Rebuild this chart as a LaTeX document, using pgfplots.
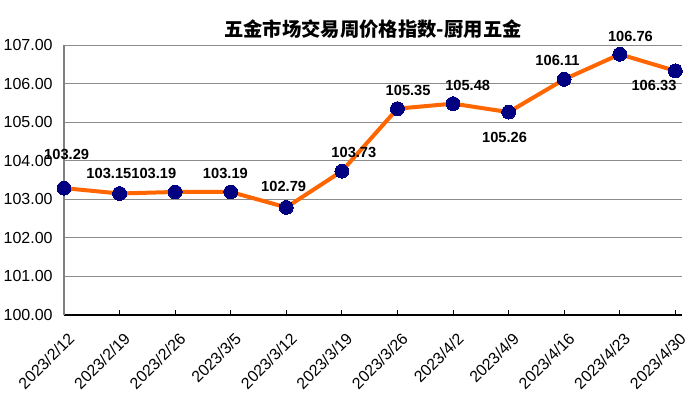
\documentclass[border=0pt]{standalone}
\usepackage{pgfplots}
\pgfplotsset{compat=1.18}
\usepackage{pgfplotstable}
\usepackage{fontspec}
\setmainfont{Liberation Sans}
\newfontfamily\cjk{Noto Sans CJK SC}
\definecolor{lineorange}{RGB}{255,102,0}
\definecolor{marknavy}{RGB}{0,0,128}
\pgfplotstableread{
x y dx dy
0 103.29 2 25
1 103.15 -8 15
2 103.19 -16 14
3 103.19 -4 14
4 102.79 -2 16
5 103.73 9 14
6 105.35 8 14
7 105.48 11 14
8 105.26 -3 -19
9 106.11 -5 14
10 106.76 8 13
11 106.33 -16 -11
}\datatable
\begin{document}
\begin{tikzpicture}
\path[use as bounding box] (-48pt,-61.5pt) rectangle (468pt,236.25pt);
\begin{axis}[
  at={(0,0)}, anchor=south west,
  scale only axis,
  width=463.5pt, height=202.5pt,
  xmin=0, xmax=11.12,
  ymin=100, ymax=107,
  ytick={100,101,...,107},
  xtick={0,...,11},
  xticklabels={2023/2/12,2023/2/19,2023/2/26,2023/3/5,2023/3/12,2023/3/19,2023/3/26,2023/4/2,2023/4/9,2023/4/16,2023/4/23,2023/4/30},
  axis x line*=bottom,
  axis y line*=left,
  x axis line style={black, line width=0.8pt, -},
  y axis line style={gray, line width=0.8pt, -},
  ymajorgrids,
  grid style={gray!90, line width=0.7pt},
  ytick style={draw=none},
  xtick style={black, line width=0.6pt},
  xtick align=inside,
  major tick length=4pt,
  clip=false,
  /pgf/number format/assume math mode=true,
  yticklabel style={/pgf/number format/.cd, fixed, fixed zerofill, precision=2, /tikz/.cd, font=\fontsize{12}{14}\selectfont, xshift=-5pt},
  xticklabel style={xshift=2.5pt, yshift=-7.5pt, rotate=45, anchor=north east, font=\fontsize{12}{14}\selectfont},
  title={\cjk\bfseries 五金市场交易周价格指数-厨用五金},
  title style={font=\fontsize{14.5}{16}\selectfont, at={(0.5,1)}, anchor=center, yshift=6pt},
  visualization depends on={\thisrow{dx} \as \ldx},
  visualization depends on={\thisrow{dy} \as \ldy},
  nodes near coords,
  point meta=explicit,
  every node near coord/.append style={text=black, font=\fontsize{11}{13}\selectfont\bfseries, anchor=center, xshift=\ldx pt, yshift=\ldy pt, /pgf/number format/.cd, fixed, fixed zerofill, precision=2},
]
\addplot[color=lineorange, line width=3pt, mark=*, mark size=5.2pt, mark options={fill=marknavy, draw=marknavy, line width=0pt}]
  table[x=x, y=y, meta=y] {\datatable};
\end{axis}
\end{tikzpicture}
\end{document}
